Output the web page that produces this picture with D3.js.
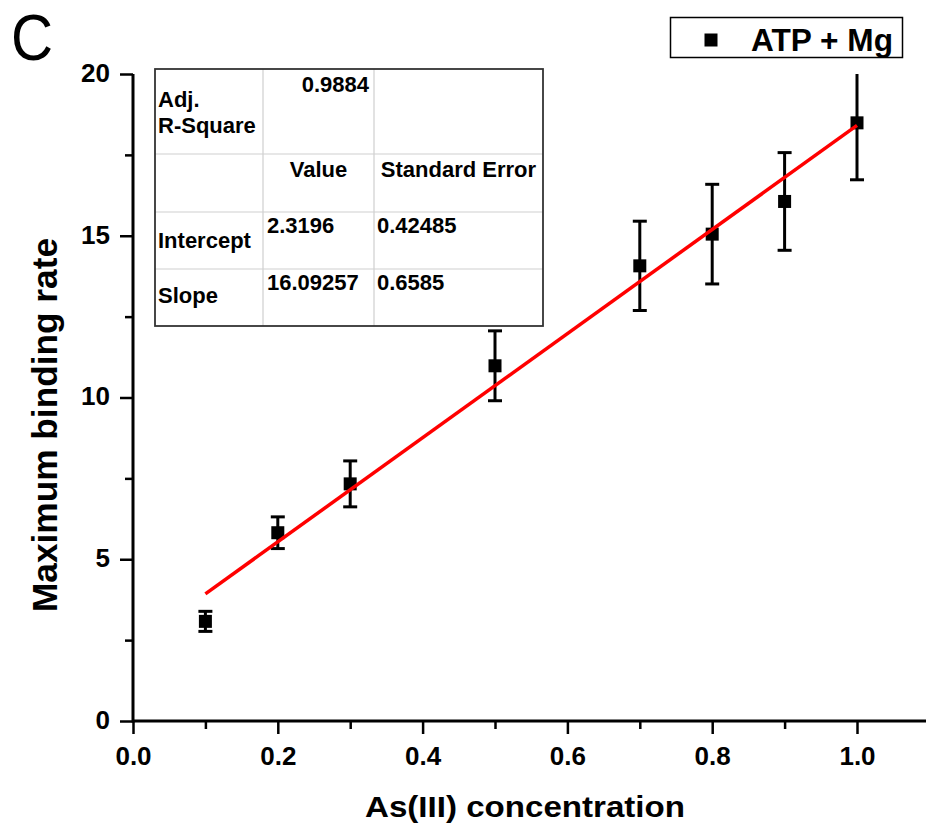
<!DOCTYPE html>
<html>
<head>
<meta charset="utf-8">
<script src="https://cdn.jsdelivr.net/npm/d3@7"></script>
<style>
  html, body { margin: 0; padding: 0; background: #fff; }
  svg { display: block; }
  text { font-family: "Liberation Sans", Arial, sans-serif; fill: #000; }
</style>
</head>
<body>
<svg id="chart" width="926" height="826"></svg>
<script>
// As(III) concentration vs maximum binding rate (ATP + Mg)
const concentration = [0.1, 0.2, 0.3, 0.5, 0.7, 0.8, 0.9, 1.0];
const bindingRate   = [3.08, 5.82, 7.33, 10.98, 14.07, 15.05, 16.06, 18.49];
const rateError     = [0.31, 0.49, 0.71, 1.08, 1.38, 1.54, 1.51, 1.76];

// Linear fit summary
const fitIntercept = 2.3196;
const fitSlope = 16.09257;
const fitRange = [0.1, 1.0];
const tableRows = [
  ["Adj.\nR-Square", "0.9884", ""],
  ["", "Value", "Standard Error"],
  ["Intercept", "2.3196", "0.42485"],
  ["Slope", "16.09257", "0.6585"]
];

const xTicks = [0.0, 0.2, 0.4, 0.6, 0.8, 1.0];
const xMinorTicks = [0.1, 0.3, 0.5, 0.7, 0.9];
const yTicks = [0, 5, 10, 15, 20];
const yMinorTicks = [2.5, 7.5, 12.5, 17.5];

const svg = d3.select("#chart");

const x = d3.scaleLinear().domain([0, 1.1]).range([133, 929.4]);
const y = d3.scaleLinear().domain([0, 20]).range([721, 74]);

// clip for data marks (top of y range)
svg.append("defs").append("clipPath").attr("id", "plotClip")
  .append("rect").attr("x", 0).attr("y", y(20)).attr("width", 926).attr("height", 826);

// Axes
const axisStroke = 3;
const xAxis = d3.axisBottom(x).tickValues(xTicks).tickSize(13).tickFormat(d3.format(".1f"));
const xMinor = d3.axisBottom(x).tickValues(xMinorTicks).tickSize(8).tickFormat("");
const yAxis = d3.axisLeft(y).tickValues(yTicks).tickSize(13).tickFormat(d3.format("d"));
const yMinor = d3.axisLeft(y).tickValues(yMinorTicks).tickSize(8).tickFormat("");

function styleAxis(g) {
  g.select(".domain").attr("stroke", "#000").attr("stroke-width", axisStroke);
  g.selectAll(".tick line").attr("stroke", "#000").attr("stroke-width", 2.5);
}

const gx = svg.append("g").attr("transform", `translate(0,${y(0)})`).call(xAxis).call(styleAxis);
gx.select(".domain").attr("d", `M${x(0)},0H926`);
gx.selectAll(".tick text")
  .attr("font-size", 26).attr("font-weight", "bold")
  .attr("y", 44).attr("dy", 0)
  .attr("font-family", "'Liberation Sans', Arial, sans-serif");
svg.append("g").attr("transform", `translate(0,${y(0)})`).call(xMinor).call(styleAxis)
  .select(".domain").remove();

const gy = svg.append("g").attr("transform", `translate(${x(0)},0)`).call(yAxis).call(styleAxis);
gy.select(".domain").attr("d", `M0,${y(20)}V${y(0) + 1.5}`);
gy.selectAll(".tick text")
  .attr("font-size", 26).attr("font-weight", "bold")
  .attr("x", -23).attr("dy", "0.28em");
svg.append("g").attr("transform", `translate(${x(0)},0)`).call(yMinor).call(styleAxis)
  .select(".domain").remove();

// Axis titles
svg.append("text")
  .attr("x", 525).attr("y", 817)
  .attr("text-anchor", "middle")
  .attr("font-size", 29).attr("font-weight", "bold")
  .attr("textLength", 320).attr("lengthAdjust", "spacingAndGlyphs")
  .text("As(III) concentration");

svg.append("text")
  .attr("transform", `translate(57,425) rotate(-90)`)
  .attr("text-anchor", "middle")
  .attr("font-size", 35).attr("font-weight", "bold")
  .attr("textLength", 374).attr("lengthAdjust", "spacingAndGlyphs")
  .text("Maximum binding rate");

// Panel letter
svg.append("text")
  .attr("x", 11).attr("y", 60)
  .attr("font-size", 64)
  .attr("textLength", 42).attr("lengthAdjust", "spacingAndGlyphs")
  .text("C");

// Data marks
const data = concentration.map((c, i) => ({ c, v: bindingRate[i], e: rateError[i] }));
const marks = svg.append("g").attr("clip-path", "url(#plotClip)");

const capW = 7;
const eb = marks.selectAll("g.eb").data(data).join("g").attr("class", "eb")
  .attr("stroke", "#000").attr("stroke-width", 3);
eb.append("line")
  .attr("x1", d => x(d.c)).attr("x2", d => x(d.c))
  .attr("y1", d => y(d.v + d.e)).attr("y2", d => y(d.v - d.e));
eb.append("line")
  .attr("x1", d => x(d.c) - capW).attr("x2", d => x(d.c) + capW)
  .attr("y1", d => y(d.v + d.e)).attr("y2", d => y(d.v + d.e));
eb.append("line")
  .attr("x1", d => x(d.c) - capW).attr("x2", d => x(d.c) + capW)
  .attr("y1", d => y(d.v - d.e)).attr("y2", d => y(d.v - d.e));

const sq = 13;
marks.selectAll("rect.pt").data(data).join("rect").attr("class", "pt")
  .attr("x", d => x(d.c) - sq / 2).attr("y", d => y(d.v) - sq / 2)
  .attr("width", sq).attr("height", sq).attr("fill", "#000");

// Fitted line
const fitLine = d3.line().x(d => x(d)).y(d => y(fitIntercept + fitSlope * d));
marks.append("path")
  .attr("d", fitLine(fitRange))
  .attr("fill", "none").attr("stroke", "#ff0000").attr("stroke-width", 3.5);

// Legend
const legend = svg.append("g");
legend.append("rect")
  .attr("x", 670.5).attr("y", 17.5).attr("width", 232).attr("height", 40)
  .attr("fill", "#fff").attr("stroke", "#000").attr("stroke-width", 1.5);
legend.append("rect")
  .attr("x", 711 - sq / 2).attr("y", 40 - sq / 2).attr("width", sq).attr("height", sq)
  .attr("fill", "#000");
legend.append("text")
  .attr("x", 751).attr("y", 50.5)
  .attr("font-size", 31).attr("font-weight", "bold")
  .attr("textLength", 142).attr("lengthAdjust", "spacingAndGlyphs")
  .text("ATP + Mg");

// Fit summary table
const tbl = svg.append("g");
const colX = [155, 263, 374, 543];
const rowY = [69, 154, 212, 269, 326];
tbl.append("rect")
  .attr("x", colX[0]).attr("y", rowY[0])
  .attr("width", colX[3] - colX[0]).attr("height", rowY[4] - rowY[0])
  .attr("fill", "#fff");
[colX[1], colX[2]].forEach(cx =>
  tbl.append("line").attr("x1", cx).attr("x2", cx).attr("y1", rowY[0]).attr("y2", rowY[4])
    .attr("stroke", "#cfcfcf").attr("stroke-width", 1.2));
[rowY[1], rowY[2], rowY[3]].forEach(ry =>
  tbl.append("line").attr("x1", colX[0]).attr("x2", colX[3]).attr("y1", ry).attr("y2", ry)
    .attr("stroke", "#cfcfcf").attr("stroke-width", 1.2));
tbl.append("rect")
  .attr("x", colX[0]).attr("y", rowY[0])
  .attr("width", colX[3] - colX[0]).attr("height", rowY[4] - rowY[0])
  .attr("fill", "none").attr("stroke", "#333").attr("stroke-width", 1.8);

const tfs = 22;
function cell(txt, xPos, yPos, anchor) {
  tbl.append("text").attr("x", xPos).attr("y", yPos)
    .attr("text-anchor", anchor || "start")
    .attr("font-size", tfs).attr("font-weight", "bold").text(txt);
}
// row 0
tableRows[0][0].split("\n").forEach((t, i) => cell(t, 158, 107 + i * 26));
cell(tableRows[0][1], 369, 92, "end");
// row 1
cell(tableRows[1][1], (colX[1] + colX[2]) / 2, 177, "middle");
cell(tableRows[1][2], (colX[2] + colX[3]) / 2, 177, "middle");
// rows 2-3
cell(tableRows[2][0], 158, 248);
cell(tableRows[2][1], 267, 233);
cell(tableRows[2][2], 377, 233);
cell(tableRows[3][0], 158, 303);
cell(tableRows[3][1], 267, 290);
cell(tableRows[3][2], 377, 290);
</script>
</body>
</html>
